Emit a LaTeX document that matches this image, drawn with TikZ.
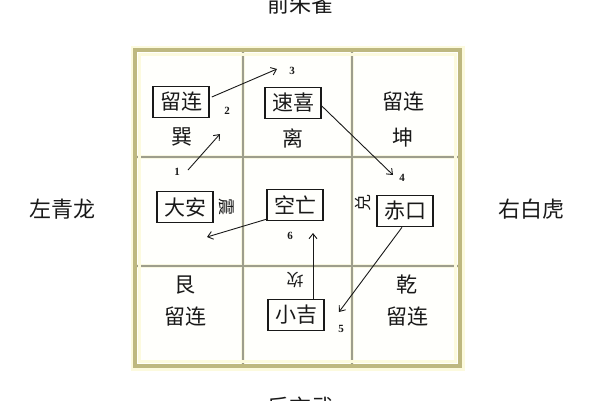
\documentclass[tikz,border=0pt]{standalone}
\usepackage{fontspec}
\setmainfont{Noto Sans CJK SC}
\newfontfamily\numfont{Liberation Serif}
\usetikzlibrary{arrows.meta}
\definecolor{frameol}{RGB}{190,184,128}
\definecolor{frameglow}{RGB}{252,250,222}
\definecolor{gridln}{RGB}{158,158,140}
\definecolor{gridglow}{RGB}{248,247,225}
\definecolor{cellbg}{RGB}{255,255,252}
\definecolor{ink}{RGB}{25,25,25}
\begin{document}
\begin{tikzpicture}[x=1pt,y=-1pt,
  cell/.style={font=\fontsize{21}{21}\selectfont, inner sep=0pt, text=ink},
  boxed/.style={draw=ink, line width=1.6pt, font=\fontsize{21}{21}\selectfont, minimum width=56pt, minimum height=31pt, inner sep=2pt, text=ink},
  side/.style={font=\fontsize{22}{22}\selectfont, inner sep=0pt, text=ink},
  rot/.style={font=\fontsize{17}{17}\selectfont, inner sep=0pt, text=ink},
  num/.style={font=\numfont\bfseries\fontsize{11}{11}\selectfont, inner sep=0pt, text=ink},
  arr/.style={-{Straight Barb[length=5pt,width=8pt]}, line width=0.9pt, draw=ink}]
\useasboundingbox (0,0) rectangle (600,400);
\fill[white] (0,0) rectangle (600,400);
% frame
\draw[frameglow, line width=9pt] (135,50) rectangle (460,366);
\fill[cellbg] (135,50) rectangle (460,366);
\draw[gridglow, line width=3.5pt] (243,50) -- (243,366) (352,50) -- (352,366) (135,157) -- (460,157) (135,266) -- (460,266);
\draw[gridln, line width=1.2pt] (243,50) -- (243,366) (352,50) -- (352,366) (135,157) -- (460,157) (135,266) -- (460,266);
\draw[frameglow, line width=3pt] (139.5,54.5) rectangle (455.5,361.5);
\draw[frameol, line width=3.6pt] (135,50) rectangle (460,366);
% outside labels
\node[side] (qian) at (300,4) {前朱雀};
\node[side] (hou) at (300,407) {后玄武};
\node[side] (zuo) at (62,209) {左青龙};
\node[side] (you) at (531,209) {右白虎};
% top row
\node[boxed] (liulianA) at (181,102) {留连};
\node[cell] (xun) at (182,137) {巽};
\node[boxed] (suxi) at (293,103) {速喜};
\node[cell] (li) at (293,138) {离};
\node[cell] (liulianB) at (403,102) {留连};
\node[cell] (kun) at (403,138) {坤};
% middle row
\node[boxed] (daan) at (185,207) {大安};
\node[rot, rotate=-90] (zhen) at (227,207) {震};
\node[boxed] (kongwang) at (295,205) {空亡};
\node[rot, rotate=90] (dui) at (363,203) {兑};
\node[boxed] (chikou) at (405,211) {赤口};
% bottom row
\node[cell] (gen) at (185,285) {艮};
\node[cell] (liulianC) at (185,317) {留连};
\node[rot, rotate=180] (kan) at (295,280) {坎};
\node[boxed] (xiaoji) at (296,315) {小吉};
\node[cell] (qianG) at (407,285) {乾};
\node[cell] (liulianD) at (407,317) {留连};
% numbers
\node[num] (n1) at (177,172) {1};
\node[num] (n2) at (227,111) {2};
\node[num] (n3) at (292,71) {3};
\node[num] (n4) at (402,178) {4};
\node[num] (n5) at (341,329) {5};
\node[num] (n6) at (290,236) {6};
% arrow ends
\coordinate (s1) at (188,170);
\coordinate (e1) at (220,134);
\coordinate (e2) at (277,69);
\coordinate (e3) at (393,175);
\coordinate (e4) at (339,312);
\coordinate (e5) at (313,233);
\coordinate (e6) at (207,237);
% arrows
\draw[arr] (s1) -- (e1);
\draw[arr] ([xshift=2pt,yshift=5pt]liulianA.east) -- (e2);
\draw[arr] ([yshift=-3pt]suxi.east) -- (e3);
\draw[arr] ([xshift=-3pt]chikou.south) -- (e4);
\draw[arr] ([xshift=17pt]xiaoji.north) -- (e5);
\draw[arr] ([yshift=2pt]kongwang.south west) -- (e6);
\end{tikzpicture}
\end{document}
